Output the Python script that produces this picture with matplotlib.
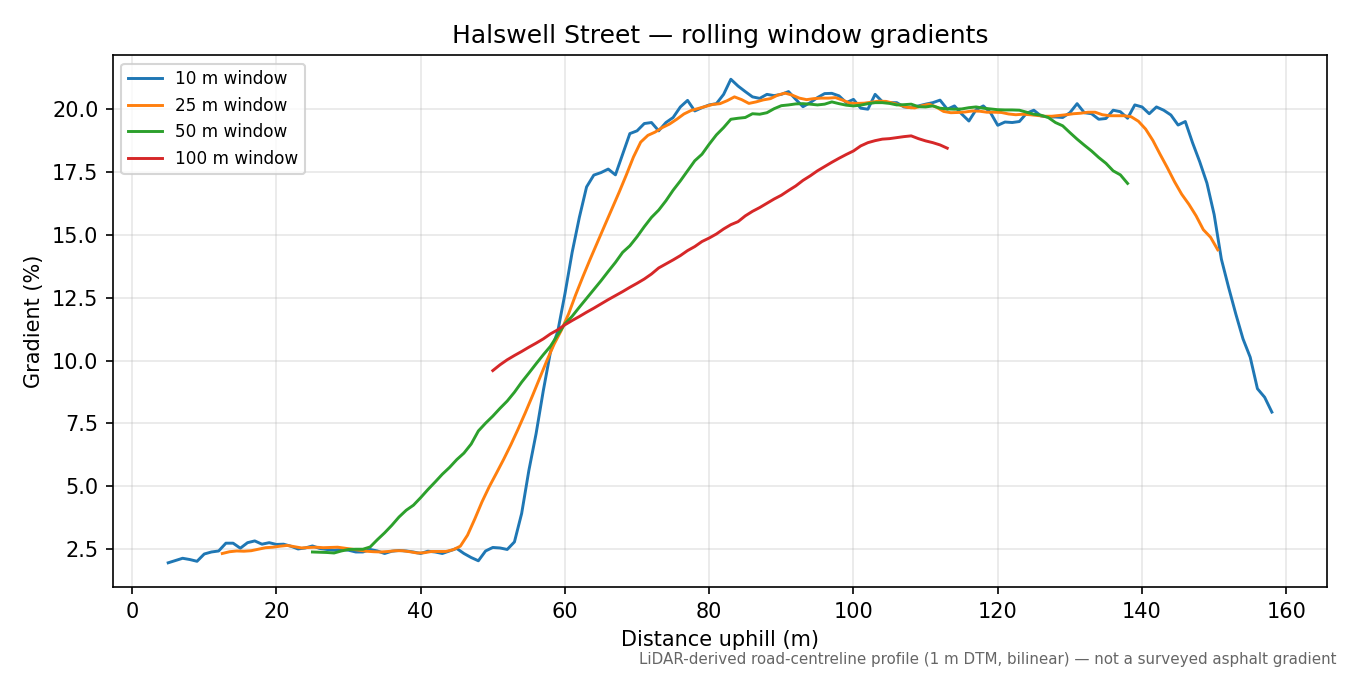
import matplotlib
matplotlib.use("Agg")
import matplotlib.pyplot as plt
import numpy as np

title = "Halswell Street — rolling window gradients"
xlabel = "Distance uphill (m)"
ylabel = "Gradient (%)"
footnote = "LiDAR-derived road-centreline profile (1 m DTM, bilinear) — not a surveyed asphalt gradient"
labels = ["10 m window", "25 m window", "50 m window", "100 m window"]

x10_start = 5
g10 = [1.96, 2.05, 2.14, 2.09, 2.02, 2.31, 2.39, 2.43, 2.74, 2.74,
       2.54, 2.76, 2.83, 2.70, 2.76, 2.69, 2.70, 2.62, 2.51, 2.55,
       2.63, 2.53, 2.49, 2.46, 2.49, 2.46, 2.39, 2.39, 2.49, 2.43,
       2.33, 2.42, 2.45, 2.43, 2.39, 2.33, 2.42, 2.39, 2.33, 2.43,
       2.53, 2.33, 2.17, 2.04, 2.43, 2.57, 2.55, 2.49, 2.79, 3.92,
       5.63, 7.09, 8.80, 10.35, 11.15, 12.65, 14.30, 15.69, 16.90, 17.37,
       17.47, 17.61, 17.38, 18.20, 19.02, 19.13, 19.42, 19.46, 19.13, 19.46,
       19.66, 20.08, 20.34, 19.92, 20.05, 20.16, 20.21, 20.58, 21.18, 20.91,
       20.69, 20.48, 20.42, 20.58, 20.53, 20.58, 20.69, 20.38, 20.09, 20.25,
       20.45, 20.61, 20.62, 20.52, 20.25, 20.38, 20.03, 19.99, 20.58, 20.29,
       20.25, 20.25, 20.08, 20.05, 20.12, 20.19, 20.25, 20.35, 19.99, 20.12,
       19.80, 19.52, 19.97, 20.12, 19.85, 19.35, 19.48, 19.46, 19.50, 19.83,
       19.95, 19.72, 19.68, 19.68, 19.66, 19.85, 20.21, 19.85, 19.81, 19.59,
       19.62, 19.95, 19.89, 19.63, 20.16, 20.08, 19.81, 20.08, 19.95, 19.76,
       19.36, 19.50, 18.66, 17.90, 17.05, 15.80, 14.03, 12.91, 11.85, 10.86,
       10.13, 8.88, 8.54, 7.95]

x25_start = 12.5
g25 = [2.33, 2.40, 2.43, 2.42, 2.44, 2.50, 2.56, 2.58, 2.62, 2.65,
       2.60, 2.55, 2.57, 2.58, 2.56, 2.57, 2.58, 2.54, 2.50, 2.46,
       2.42, 2.40, 2.39, 2.41, 2.44, 2.44, 2.40, 2.35, 2.36, 2.41,
       2.41, 2.41, 2.48, 2.62, 3.06, 3.70, 4.38, 4.98, 5.52, 6.07,
       6.65, 7.27, 7.92, 8.60, 9.30, 10.00, 10.65, 11.20, 11.85, 12.62,
       13.34, 14.03, 14.70, 15.36, 16.02, 16.68, 17.37, 18.09, 18.68, 18.95,
       19.08, 19.26, 19.40, 19.59, 19.80, 19.94, 20.02, 20.10, 20.18, 20.21,
       20.33, 20.48, 20.37, 20.22, 20.28, 20.36, 20.41, 20.55, 20.63, 20.55,
       20.43, 20.37, 20.41, 20.43, 20.43, 20.45, 20.35, 20.23, 20.22, 20.23,
       20.27, 20.31, 20.30, 20.23, 20.15, 20.06, 20.04, 20.13, 20.19, 20.07,
       19.90, 19.85, 19.86, 19.88, 19.92, 19.91, 19.87, 19.87, 19.86, 19.80,
       19.77, 19.79, 19.77, 19.74, 19.71, 19.71, 19.74, 19.77, 19.81, 19.83,
       19.87, 19.87, 19.77, 19.73, 19.73, 19.73, 19.69, 19.51, 19.20, 18.75,
       18.20, 17.67, 17.11, 16.61, 16.21, 15.75, 15.20, 14.90, 14.40]

x50_start = 25
g50 = [2.39, 2.38, 2.37, 2.35, 2.43, 2.49, 2.50, 2.50, 2.59, 2.88,
       3.15, 3.45, 3.78, 4.05, 4.25, 4.55, 4.87, 5.17, 5.48, 5.75,
       6.06, 6.32, 6.68, 7.20, 7.51, 7.79, 8.10, 8.39, 8.74, 9.14,
       9.50, 9.87, 10.23, 10.57, 11.02, 11.46, 11.76, 12.12, 12.47, 12.82,
       13.17, 13.54, 13.90, 14.30, 14.56, 14.92, 15.32, 15.69, 15.98, 16.35,
       16.77, 17.14, 17.54, 17.94, 18.20, 18.60, 18.97, 19.26, 19.59, 19.63,
       19.66, 19.81, 19.79, 19.85, 20.01, 20.13, 20.16, 20.20, 20.21, 20.19,
       20.16, 20.19, 20.28, 20.21, 20.15, 20.12, 20.15, 20.21, 20.25, 20.25,
       20.22, 20.16, 20.17, 20.19, 20.09, 20.08, 20.12, 20.03, 20.00, 19.99,
       20.00, 20.05, 20.08, 20.03, 20.00, 19.97, 19.96, 19.96, 19.95, 19.87,
       19.79, 19.75, 19.66, 19.46, 19.33, 19.06, 18.80, 18.56, 18.33, 18.07,
       17.84, 17.54, 17.38, 17.04]

x100_start = 50
g100 = [9.60, 9.83, 10.03, 10.20, 10.36, 10.53, 10.69, 10.86, 11.06, 11.22,
        11.42, 11.59, 11.75, 11.92, 12.08, 12.25, 12.42, 12.58, 12.74, 12.91,
        13.07, 13.24, 13.44, 13.68, 13.84, 14.00, 14.17, 14.37, 14.53, 14.73,
        14.87, 15.03, 15.23, 15.40, 15.52, 15.75, 15.93, 16.08, 16.25, 16.42,
        16.57, 16.76, 16.94, 17.16, 17.34, 17.54, 17.71, 17.88, 18.04, 18.19,
        18.33, 18.53, 18.66, 18.74, 18.80, 18.82, 18.86, 18.90, 18.93, 18.82,
        18.73, 18.66, 18.57, 18.44]

series = [(x10_start, g10), (x25_start, g25), (x50_start, g50), (x100_start, g100)]
colors = ["#1f77b4", "#ff7f0e", "#2ca02c", "#d62728"]

fig = plt.figure(figsize=(9, 4.5), dpi=150)
ax = fig.add_axes([0.0837, 0.1304, 0.8993, 0.788])
for (start, vals), lab, col in zip(series, labels, colors):
    xs = start + np.arange(len(vals))
    ax.plot(xs, vals, color=col, lw=1.4, label=lab)

ax.set_title(title, fontsize=12)
ax.set_xlabel(xlabel)
ax.set_ylabel(ylabel)
ax.grid(True, alpha=0.3)
ax.legend(loc="upper left", fontsize=8.1)
fig.text(0.99, 0.012, footnote, ha="right", va="bottom", fontsize=7.25, color="#666666")
fig.savefig("out.png", dpi=150)
